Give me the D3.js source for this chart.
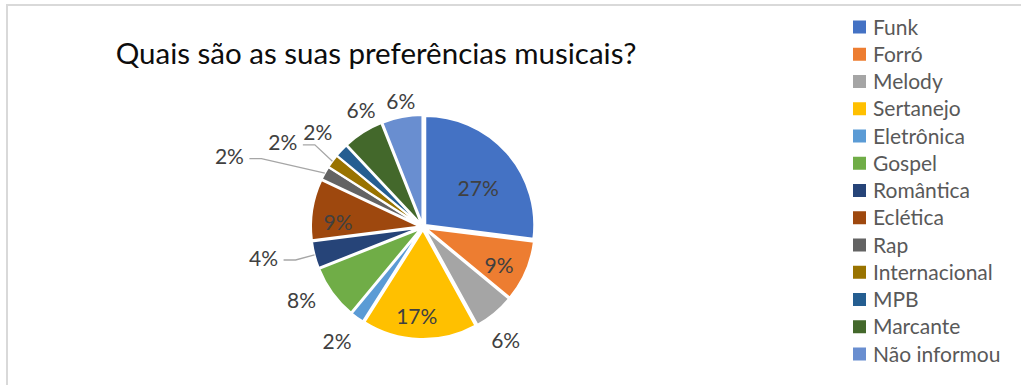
<!DOCTYPE html>
<html>
<head>
<meta charset="utf-8">
<script src="https://cdn.jsdelivr.net/npm/d3@7/dist/d3.min.js"></script>
<style>
  html, body { margin: 0; padding: 0; background: #fff; }
  svg { display: block; }
  text { font-family: Lato, "Open Sans", sans-serif; }
</style>
</head>
<body>
<svg id="chart" width="1021" height="385"></svg>
<script>
// ---- data ----
const categories = ["Funk", "Forró", "Melody", "Sertanejo", "Eletrônica", "Gospel", "Romântica",
                    "Eclética", "Rap", "Internacional", "MPB", "Marcante", "Não informou"];
const values = [27, 9, 6, 17, 2, 8, 4, 9, 2, 2, 2, 6, 6];
const colors = ["#4472C4", "#ED7D31", "#A5A5A5", "#FFC000", "#5B9BD5", "#70AD47", "#264478",
                "#9E480E", "#636363", "#997300", "#255E91", "#43682B", "#698ED0"];
const title = "Quais são as suas preferências musicais?";

// ---- label layout (radius factor, angle nudge in degrees, leader line) ----
const labelRadius = [0.62, 0.78, 1.29, 0.82, 1.31, 1.30, 1.49, 0.78, 1.89, 1.50, 1.30, 1.21, 1.17];
const labelNudge  = [6.1, 3.2, 3.6, 2.2, 1, 5, 3.4, -6, -8.8, -5, -1.2, 4.4, 0.8];
const hasLeader   = [false, false, false, false, false, false, true, false, true, true, false, false, false];

const svg = d3.select("#chart");
const W = 1021, H = 385;

// chart border
svg.append("rect").attr("x", 7).attr("y", 5).attr("width", W + 20).attr("height", H + 20)
  .attr("fill", "none").attr("stroke", "#d9d9d9").attr("stroke-width", 2);

// title
svg.append("text").attr("x", 376).attr("y", 64).attr("text-anchor", "middle")
  .attr("font-size", 29.5).attr("fill", "#0d0d0d").text(title);

// pie
const cx = 423, cy = 227, R = 109, explode = 3;
const pie = d3.pie().sort(null).value(d => d)(values);
const arc = d3.arc().innerRadius(0).outerRadius(R);
const g = svg.append("g").attr("transform", `translate(${cx},${cy})`);

const mid = d => (d.startAngle + d.endAngle) / 2;
g.selectAll("path.slice").data(pie).join("path")
  .attr("class", "slice")
  .attr("d", arc)
  .attr("transform", d => `translate(${explode * Math.sin(mid(d))},${-explode * Math.cos(mid(d))})`)
  .attr("fill", (d, i) => colors[i])
  .attr("stroke", "#fff").attr("stroke-width", 2);

// labels
const fmt = d3.format(".0%");
const total = d3.sum(values);
const pos = (d, i) => {
  const a = mid(d) + labelNudge[i] * Math.PI / 180;
  const r = R * labelRadius[i];
  return [r * Math.sin(a), -r * Math.cos(a)];
};

// leader lines
g.selectAll("polyline.leader").data(pie.filter((d, i) => hasLeader[i])).join("polyline")
  .attr("class", "leader")
  .attr("fill", "none").attr("stroke", "#a6a6a6").attr("stroke-width", 1.3)
  .attr("points", d => {
    const [lx, ly] = pos(d, d.index);
    const a = mid(d), rr = R + explode;
    const ex = rr * Math.sin(a), ey = -rr * Math.cos(a);
    return [[lx + 20, ly + 2], [lx + 32, ly + 2], [ex, ey]].map(p => p.join(",")).join(" ");
  });

g.selectAll("text.lbl").data(pie).join("text")
  .attr("class", "lbl")
  .attr("x", (d, i) => pos(d, i)[0])
  .attr("y", (d, i) => pos(d, i)[1])
  .attr("dy", "0.36em")
  .attr("text-anchor", "middle")
  .attr("font-size", 21)
  .attr("fill", "#404040")
  .text(d => fmt(d.value / total));

// legend
const legend = svg.append("g").attr("transform", "translate(853,27)");
const row = 27.25;
const items = legend.selectAll("g").data(categories).join("g")
  .attr("transform", (d, i) => `translate(0,${i * row})`);
items.append("rect").attr("x", 0).attr("y", -6.5).attr("width", 13).attr("height", 13)
  .attr("fill", (d, i) => colors[i]);
items.append("text").attr("x", 20).attr("y", 0).attr("dy", "0.36em")
  .attr("font-size", 21).attr("fill", "#595959").text(d => d);
</script>
</body>
</html>
